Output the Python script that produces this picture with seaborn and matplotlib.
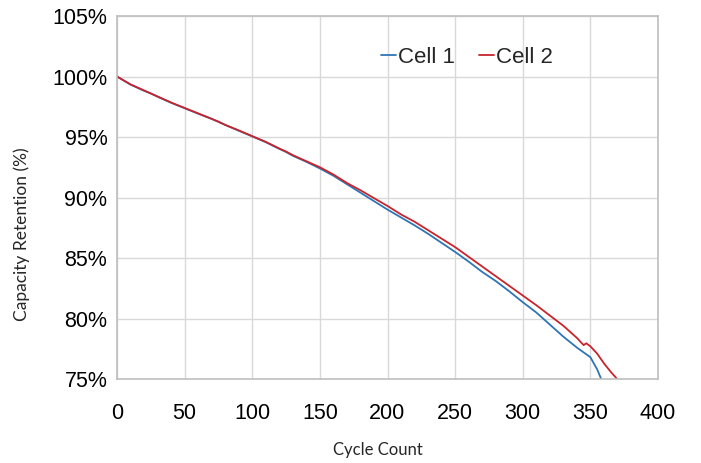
import matplotlib
matplotlib.use("Agg")
import matplotlib.pyplot as plt
import seaborn as sns
import pandas as pd
from matplotlib.ticker import FuncFormatter

# Cell 2 (red)
cycles_2 = [0, 10, 20, 25, 30, 40, 50, 60, 70, 75, 80, 90, 100, 110, 120, 125, 130, 140,
            150, 160, 170, 180, 190, 200, 210, 220, 230, 240, 250, 260, 270, 280, 290,
            300, 310, 320, 330, 340, 345, 347, 350, 355, 360, 365, 369, 372]
retention_2 = [100.0, 99.35, 98.85, 98.6, 98.35, 97.85, 97.4, 96.95, 96.5, 96.27, 96.0,
               95.55, 95.07, 94.6, 94.05, 93.8, 93.5, 93.0, 92.5, 91.9, 91.2, 90.6, 89.95,
               89.3, 88.6, 88.0, 87.3, 86.6, 85.9, 85.1, 84.3, 83.5, 82.7, 81.9, 81.1,
               80.25, 79.4, 78.4, 77.8, 77.95, 77.7, 77.1, 76.3, 75.6, 75.1, 74.6]

# Cell 1 (blue)
cycles_1 = [0, 10, 20, 25, 30, 40, 50, 60, 70, 75, 80, 90, 100, 110, 120, 125, 130, 140,
            150, 160, 170, 180, 190, 200, 210, 220, 230, 240, 250, 260, 270, 280, 290,
            300, 310, 320, 330, 340, 350, 355, 358, 360]
retention_1 = [100.0, 99.33, 98.82, 98.6, 98.33, 97.83, 97.38, 96.93, 96.5, 96.25, 96.0,
               95.52, 95.05, 94.57, 94.02, 93.76, 93.45, 92.95, 92.4, 91.8, 91.1, 90.4,
               89.7, 89.0, 88.35, 87.7, 87.0, 86.25, 85.5, 84.7, 83.85, 83.1, 82.25, 81.35,
               80.5, 79.5, 78.5, 77.6, 76.8, 75.8, 75.0, 74.5]

series_names = ["Cell 1", "Cell 2"]
colors = ["#2E75B6", "#C8242C"]

x_ticks = [0, 50, 100, 150, 200, 250, 300, 350, 400]
y_ticks = [75, 80, 85, 90, 95, 100, 105]

df = pd.concat([
    pd.DataFrame({"cycle": cycles_1, "ret": retention_1, "cell": series_names[0]}),
    pd.DataFrame({"cycle": cycles_2, "ret": retention_2, "cell": series_names[1]}),
])

sns.set_theme(style="whitegrid")
plt.rcParams["font.family"] = ["Liberation Sans", "DejaVu Sans"]

fig = plt.figure(figsize=(7.01, 4.63), dpi=100)
ax = fig.add_axes([117/701, 1-379/463, (658-117)/701, (379-16)/463])

sns.lineplot(data=df, x="cycle", y="ret", hue="cell", palette=colors,
             linewidth=1.3, ax=ax, sort=False, estimator=None)

ax.set_xlim(0, 400)
ax.set_ylim(75, 105)
ax.set_xticks(x_ticks)
ax.set_yticks(y_ticks)
ax.yaxis.set_major_formatter(FuncFormatter(lambda v, p: f"{v:.0f}%"))
ax.tick_params(axis="x", labelsize=15.5, pad=17, length=0, colors="black")
ax.tick_params(axis="y", labelsize=15.5, pad=7, length=0, colors="black")
ax.grid(True, color="#d9d9d9", linewidth=1)
for s in ax.spines.values():
    s.set_color("#bfbfbf")
    s.set_linewidth(1.2)

ax.set_xlabel("Cycle Count", fontsize=12, family=["Lato", "DejaVu Sans"])
ax.set_ylabel("Capacity Retention (%)", fontsize=12.5, family=["Lato", "DejaVu Sans"])
ax.xaxis.set_label_coords(0.482, -0.173)
ax.yaxis.set_label_coords(-0.16, 0.40)

handles, labels = ax.get_legend_handles_labels()
ax.legend(handles, labels, loc="center", bbox_to_anchor=(0.647, 0.885), ncol=2,
          frameon=False, fontsize=16, handlelength=0.65, handletextpad=0.1,
          columnspacing=1.1)

fig.savefig("out.png", dpi=100)
